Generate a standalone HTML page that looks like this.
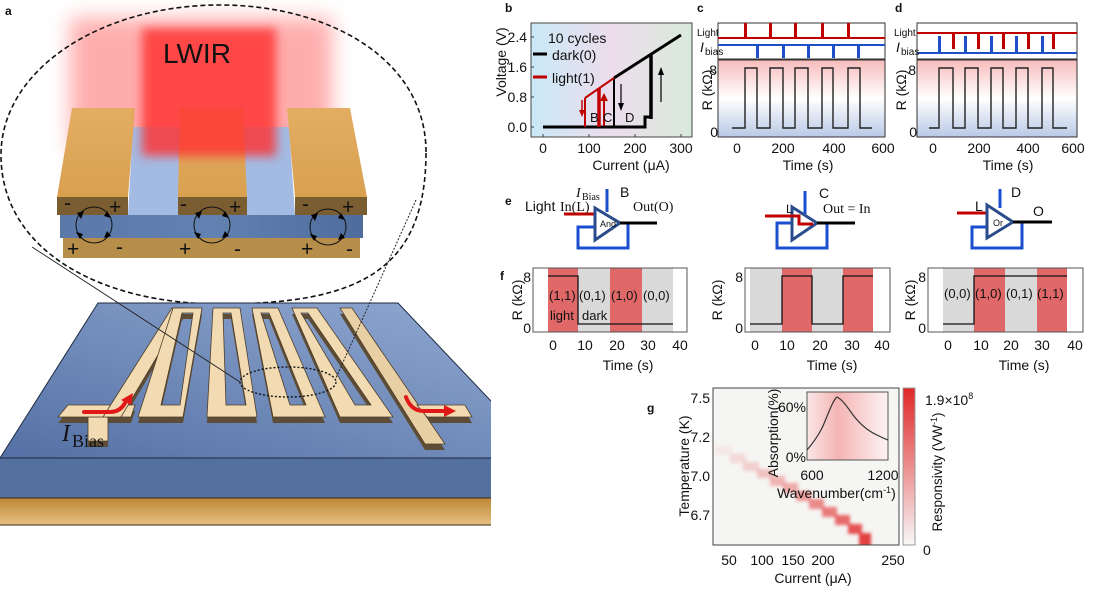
<!DOCTYPE html>
<html><head><meta charset="utf-8"><style>
html,body{margin:0;padding:0;background:#fff;}
svg{display:block;}
text{font-family:"Liberation Sans",Arial,sans-serif;fill:#111;}
.s{font-family:"Liberation Serif",serif;}
</style></head><body>
<svg width="1093" height="591" viewBox="0 0 1093 591" xmlns="http://www.w3.org/2000/svg">
<defs>
<filter id="b10" x="-50%" y="-50%" width="200%" height="200%"><feGaussianBlur stdDeviation="10"/></filter>
<filter id="b5" x="-50%" y="-50%" width="200%" height="200%"><feGaussianBlur stdDeviation="5"/></filter>
<filter id="b2" x="-50%" y="-50%" width="200%" height="200%"><feGaussianBlur stdDeviation="1.6"/></filter>
<linearGradient id="gb" x1="0" y1="0" x2="1" y2="0"><stop offset="0" stop-color="#c9e9f6"/><stop offset="0.5" stop-color="#ecdcec"/><stop offset="1" stop-color="#d9ebda"/></linearGradient>
<linearGradient id="gr" x1="0" y1="0" x2="0" y2="1"><stop offset="0" stop-color="#f7bcbc"/><stop offset="0.5" stop-color="#ffffff"/><stop offset="1" stop-color="#b9c9e6"/></linearGradient>
<linearGradient id="subTop" x1="0" y1="1" x2="1" y2="0"><stop offset="0" stop-color="#5470a4"/><stop offset="1" stop-color="#93abd4"/></linearGradient>
<linearGradient id="goldB" x1="0" y1="0" x2="0" y2="1"><stop offset="0" stop-color="#bd8735"/><stop offset="1" stop-color="#e6bf82"/></linearGradient>
<linearGradient id="goldT" x1="0" y1="0" x2="0" y2="1"><stop offset="0" stop-color="#e3ad62"/><stop offset="1" stop-color="#d9a050"/></linearGradient>
<linearGradient id="blueL" x1="0" y1="0" x2="1" y2="0"><stop offset="0" stop-color="#5a78a8"/><stop offset="0.5" stop-color="#6282b2"/><stop offset="1" stop-color="#4e6c9c"/></linearGradient>
<linearGradient id="ins" x1="0" y1="0" x2="1" y2="0"><stop offset="0" stop-color="#fae6e6"/><stop offset="0.38" stop-color="#f5b4b4"/><stop offset="1" stop-color="#fdf3f3"/></linearGradient>
<linearGradient id="cb" x1="0" y1="0" x2="0" y2="1"><stop offset="0" stop-color="#e02626"/><stop offset="1" stop-color="#f8f8f8"/></linearGradient>
<clipPath id="clipA"><rect x="0" y="0" width="491" height="591"/></clipPath>
<clipPath id="clipG"><rect x="713" y="388" width="186" height="157"/></clipPath>
</defs>

<!-- ===== Panel a ===== -->
<text x="5" y="15" font-size="12" font-weight="bold">a</text>

<rect x="70" y="18" width="262" height="135" fill="#ff6a6a" opacity="0.55" filter="url(#b10)"/>

<rect x="63" y="238" width="297" height="20" fill="#b68e4a"/>
<rect x="60" y="215" width="303" height="23" fill="url(#blueL)"/>
<polygon points="133,127 182,127 178,215 128,215" fill="#a3bbe3"/>
<polygon points="241,127 289,127 295,215 247,215" fill="#a3bbe3"/>
<polygon points="72,108 135,108 128,197 57,197" fill="url(#goldT)"/>
<rect x="57" y="197" width="71" height="18" fill="#7b5d32"/>
<polygon points="180,108 243,108 247,197 178,197" fill="url(#goldT)"/>
<rect x="178" y="197" width="69" height="18" fill="#7b5d32"/>
<polygon points="287,108 350,108 367,197 295,197" fill="url(#goldT)"/>
<rect x="295" y="197" width="72" height="18" fill="#7b5d32"/>

<rect x="142" y="28" width="134" height="128" fill="#ff3030" opacity="0.82" filter="url(#b5)"/>
<text x="163" y="63" font-size="28">LWIR</text>

<g fill="none" stroke="#111" stroke-width="1">
<circle cx="94" cy="225" r="18"/><circle cx="212" cy="225" r="18"/><circle cx="328" cy="227" r="18"/>
</g>
<g fill="#000">
<polygon points="77,213 84,211 81,219"/><polygon points="107,211 111,218 104,216"/><polygon points="111,236 104,238 107,231"/><polygon points="80,239 76,232 83,234"/>
<polygon points="195,213 202,211 199,219"/><polygon points="225,211 229,218 222,216"/><polygon points="229,236 222,238 225,231"/><polygon points="198,239 194,232 201,234"/>
<polygon points="311,215 318,213 315,221"/><polygon points="341,213 345,220 338,218"/><polygon points="345,238 338,240 341,233"/><polygon points="314,241 310,234 317,236"/>
</g>
<g font-size="21" fill="#000">
<text x="64" y="210">-</text><text x="109" y="214">+</text><text x="67" y="256">+</text><text x="116" y="254">-</text>
<text x="180" y="211">-</text><text x="229" y="214">+</text><text x="179" y="256">+</text><text x="234" y="256">-</text>
<text x="302" y="211">-</text><text x="342" y="214">+</text><text x="301" y="256">+</text><text x="346" y="256">-</text>
</g>

<path d="M426,152 C426,60 330,5 220,5 C100,5 1,70 1,155 C1,250 100,304 220,304 C360,304 426,270 426,152 Z" fill="none" stroke="#111" stroke-width="1.6" stroke-dasharray="5 3"/>

<g clip-path="url(#clipA)">
<polygon points="98,303 398,303 545,458 0,458" fill="url(#subTop)" stroke="#1d2a40" stroke-width="1"/>
<rect x="-2" y="458" width="550" height="40" fill="#53709f" stroke="#1d2a40" stroke-width="1"/>
<rect x="-2" y="498" width="550" height="27" fill="url(#goldB)" stroke="#3a2a10" stroke-width="1"/>
</g>

<g fill="#5e4d36" fill-rule="evenodd" transform="translate(0,6)">
<polygon points="68,405 135,405 131,417 58,417"/>
<polygon points="88,417 108,417 108,441 88,441"/>
<polygon points="103,417 121,417 186,308 172,308"/>
<path d="M173,308 H202 L183,417 H138 Z M182,313 H193 L180,405 H161 Z"/>
<path d="M213,308 H240 L257,417 H207 Z M223,313 H231 L246,405 H226 Z"/>
<path d="M252,308 H278 L325,417 H273 Z M261,313 H269 L306,405 H290 Z"/>
<path d="M292,308 H317 L393,417 H340 Z M301,313 H308 L371,405 H355 Z"/>
<polygon points="340,308 352,308 445,444 425,444"/>
<polygon points="417,405 465,405 472,417 427,417"/>
</g>
<g fill="#f2dbb2" stroke="#4d3e2a" stroke-width="0.8" fill-rule="evenodd">
<polygon points="88,417 108,417 108,441 88,441"/>
<polygon points="68,405 135,405 131,417 58,417"/>
<polygon points="103,417 121,417 186,308 172,308"/>
<path d="M173,308 H202 L183,417 H138 Z M182,313 H193 L180,405 H161 Z"/>
<path d="M213,308 H240 L257,417 H207 Z M223,313 H231 L246,405 H226 Z"/>
<path d="M252,308 H278 L325,417 H273 Z M261,313 H269 L306,405 H290 Z"/>
<path d="M292,308 H317 L393,417 H340 Z M301,313 H308 L371,405 H355 Z"/>
<polygon points="340,308 352,308 445,444 425,444" fill="#e9cfa4"/>
<polygon points="417,405 465,405 472,417 427,417"/>
</g>
<g fill="none" stroke="#e01818" stroke-width="4" stroke-linecap="round">
<path d="M84,412 L110,412 Q121,412 126,401"/>
<path d="M406,397 Q411,411 424,411 L446,411"/>
</g>
<polygon points="121,400 133,393 131,405" fill="#e01818"/>
<polygon points="444,405 456,411 444,417" fill="#e01818"/>
<text x="62" y="441" font-size="24" font-style="italic" class="s">I</text>
<text x="72" y="447" font-size="18" class="s">Bias</text>

<ellipse cx="288" cy="382" rx="48" ry="15" fill="none" stroke="#111" stroke-width="1.4" stroke-dasharray="2 2"/>
<line x1="32" y1="247" x2="240" y2="382" stroke="#222" stroke-width="0.9"/>
<line x1="416" y1="200" x2="335" y2="380" stroke="#222" stroke-width="1" stroke-dasharray="2 1.5"/>

<!-- ===== Panel b ===== -->
<text x="505" y="12" font-size="12" font-weight="bold">b</text>
<rect x="531" y="23" width="161" height="114" fill="url(#gb)" stroke="#444" stroke-width="1"/>
<g stroke="#444" stroke-width="1">
<path d="M543,137 v-3 M589,137 v-3 M635,137 v-3 M681,137 v-3 M531,37 h3 M531,67 h3 M531,97 h3 M531,127 h3"/>
</g>
<g font-size="14">
<text x="527" y="42" text-anchor="end">2.4</text>
<text x="527" y="72" text-anchor="end">1.6</text>
<text x="527" y="102" text-anchor="end">0.8</text>
<text x="527" y="132" text-anchor="end">0.0</text>
<text x="543" y="153" text-anchor="middle">0</text>
<text x="589" y="153" text-anchor="middle">100</text>
<text x="635" y="153" text-anchor="middle">200</text>
<text x="681" y="153" text-anchor="middle">300</text>
<text x="631" y="170" text-anchor="middle">Current (μA)</text>
<text transform="translate(506,62) rotate(-90)" text-anchor="middle">Voltage (V)</text>
<text x="548" y="43">10 cycles</text>
<text x="552" y="60">dark(0)</text>
<text x="552" y="83">light(1)</text>
</g>
<line x1="533" y1="54" x2="547" y2="54" stroke="#000" stroke-width="3"/>
<line x1="533" y1="77" x2="547" y2="77" stroke="#c00000" stroke-width="3"/>
<g fill="none">
<path d="M543,127 H645 V117 H651" stroke="#000" stroke-width="3"/>
<path d="M651,119 V54" stroke="#000" stroke-width="3.5"/>
<path d="M614,78 L681,35" stroke="#000" stroke-width="3"/>
<path d="M614,78 V127" stroke="#000" stroke-width="2"/>
<path d="M585,98 L614,78" stroke="#c00000" stroke-width="2"/>
<path d="M585,98 V127" stroke="#c00000" stroke-width="2"/>
<path d="M599,88 V127" stroke="#c00000" stroke-width="3.5"/>
<path d="M582,100 V111" stroke="#c00000" stroke-width="1.5"/>
<path d="M604,126 V100" stroke="#c00000" stroke-width="2"/>
<path d="M621,84 V104" stroke="#000" stroke-width="1.2"/>
<path d="M661,102 V74" stroke="#000" stroke-width="1.2"/>
</g>
<polygon points="579,110 585,110 582,117" fill="#c00000"/>
<polygon points="600,101 608,101 604,93" fill="#c00000"/>
<polygon points="618,103 624,103 621,111" fill="#000"/>
<polygon points="658,75 664,75 661,67" fill="#000"/>
<g font-size="13"><text x="590" y="122">B</text><text x="603" y="122">C</text><text x="625" y="122">D</text></g>

<!-- ===== Panel c ===== -->
<text x="697" y="12" font-size="12" font-weight="bold">c</text>
<rect x="718" y="23" width="167" height="36" fill="#fff" stroke="#333" stroke-width="1"/>
<line x1="718" y1="38" x2="885" y2="38" stroke="#c00000" stroke-width="2"/>
<g fill="#c00000"><rect x="744" y="23" width="3" height="15"/><rect x="769" y="23" width="3" height="15"/><rect x="794" y="23" width="3" height="15"/><rect x="821" y="23" width="3" height="15"/><rect x="847" y="23" width="3" height="15"/></g>
<line x1="718" y1="45" x2="885" y2="45" stroke="#1f4fc8" stroke-width="2"/>
<g fill="#1f4fc8"><rect x="756" y="45" width="3" height="13"/><rect x="782" y="45" width="3" height="13"/><rect x="807" y="45" width="3" height="13"/><rect x="832" y="45" width="3" height="13"/><rect x="857" y="45" width="3" height="13"/></g>
<rect x="718" y="60" width="167" height="77" fill="url(#gr)" stroke="#333" stroke-width="1"/>
<path d="M732,128 H745 V68 H757 V128 H770 V68 H783 V128 H795 V68 H808 V128 H822 V68 H833 V128 H848 V68 H860 V128 H872" fill="none" stroke="#222" stroke-width="1.4"/>
<text x="697" y="36" font-size="10" fill="#c00000">Light</text>
<text x="700" y="52" font-size="14" font-style="italic" fill="#1f4fc8">I</text>
<text x="705" y="55" font-size="10" fill="#1f4fc8">bias</text>
<g font-size="14">
<text x="717" y="75" text-anchor="end">8</text>
<text x="718" y="137" text-anchor="end">0</text>
<text transform="translate(712,90) rotate(-90)" text-anchor="middle">R (kΩ)</text>
<text x="737" y="153" text-anchor="middle">0</text>
<text x="783" y="153" text-anchor="middle">200</text>
<text x="834" y="153" text-anchor="middle">400</text>
<text x="883" y="153" text-anchor="middle">600</text>
<text x="808" y="170" text-anchor="middle">Time (s)</text>
</g>

<!-- ===== Panel d ===== -->
<text x="895" y="12" font-size="12" font-weight="bold">d</text>
<rect x="917" y="23" width="160" height="36" fill="#fff" stroke="#333" stroke-width="1"/>
<line x1="917" y1="33" x2="1077" y2="33" stroke="#c00000" stroke-width="2"/>
<g fill="#c00000"><rect x="952" y="33" width="3" height="16"/><rect x="977" y="33" width="3" height="16"/><rect x="1002" y="33" width="3" height="16"/><rect x="1027" y="33" width="3" height="16"/><rect x="1052" y="33" width="3" height="16"/></g>
<line x1="917" y1="53" x2="1077" y2="53" stroke="#1f4fc8" stroke-width="2"/>
<g fill="#1f4fc8"><rect x="938" y="36" width="3" height="17"/><rect x="964" y="36" width="3" height="17"/><rect x="990" y="36" width="3" height="17"/><rect x="1015" y="36" width="3" height="17"/><rect x="1041" y="36" width="3" height="17"/></g>
<rect x="917" y="60" width="160" height="77" fill="url(#gr)" stroke="#333" stroke-width="1"/>
<path d="M929,128 H939 V68 H953 V128 H965 V68 H978 V128 H991 V68 H1003 V128 H1016 V68 H1028 V128 H1042 V68 H1053 V128 H1067" fill="none" stroke="#222" stroke-width="1.4"/>
<text x="894" y="36" font-size="10" fill="#c00000">Light</text>
<text x="896" y="52" font-size="14" font-style="italic" fill="#1f4fc8">I</text>
<text x="901" y="55" font-size="10" fill="#1f4fc8">bias</text>
<g font-size="14">
<text x="916" y="75" text-anchor="end">8</text>
<text x="917" y="137" text-anchor="end">0</text>
<text transform="translate(906,90) rotate(-90)" text-anchor="middle">R (kΩ)</text>
<text x="933" y="153" text-anchor="middle">0</text>
<text x="979" y="153" text-anchor="middle">200</text>
<text x="1028" y="153" text-anchor="middle">400</text>
<text x="1073" y="153" text-anchor="middle">600</text>
<text x="1008" y="170" text-anchor="middle">Time (s)</text>
</g>

<!-- ===== Panel e ===== -->
<text x="505" y="205" font-size="12" font-weight="bold">e</text>
<line x1="564" y1="214" x2="594" y2="214" stroke="#c00000" stroke-width="3"/>
<line x1="607" y1="189" x2="607" y2="212" stroke="#1c4fd0" stroke-width="3"/>
<polyline points="628,223 628,248 578,248 578,227 595,227" fill="none" stroke="#1c4fd0" stroke-width="3"/>
<polygon points="595,208 595,240 620,223" fill="#fff" stroke="#2b4c8c" stroke-width="3" stroke-linejoin="miter"/>
<line x1="620" y1="223" x2="657" y2="223" stroke="#000" stroke-width="3"/>
<text x="600" y="227" font-size="9">And</text>
<text x="525" y="211" font-size="14">Light</text>
<text x="560" y="211" font-size="14" class="s">In(L)</text>
<text x="576" y="197" font-size="14" font-style="italic" class="s">I</text>
<text x="582" y="200" font-size="10" class="s">Bias</text>
<text x="620" y="197" font-size="14">B</text>
<text x="633" y="211" font-size="14" class="s">Out(O)</text>
<line x1="805" y1="191" x2="805" y2="214" stroke="#1c4fd0" stroke-width="3"/>
<polyline points="827,223 827,248 777,248 777,223 792,223" fill="none" stroke="#1c4fd0" stroke-width="3"/>
<polygon points="792,207 792,240 817,223" fill="#fff" stroke="#2b4c8c" stroke-width="3"/>
<polyline points="765,216 799,216 799,224 813,224" fill="none" stroke="#c00000" stroke-width="3"/>
<line x1="817" y1="223" x2="855" y2="223" stroke="#000" stroke-width="3"/>
<text x="786" y="213" font-size="12">L</text>
<text x="819" y="198" font-size="14">C</text>
<text x="823" y="213" font-size="14" class="s">Out = In</text>
<line x1="957" y1="213" x2="986" y2="213" stroke="#c00000" stroke-width="3"/>
<line x1="1000" y1="189" x2="1000" y2="208" stroke="#1c4fd0" stroke-width="3"/>
<polyline points="1022,222 1022,248 972,248 972,227 987,227" fill="none" stroke="#1c4fd0" stroke-width="3"/>
<polygon points="987,205 987,238 1013,222" fill="#fff" stroke="#2b4c8c" stroke-width="3"/>
<line x1="1013" y1="222" x2="1052" y2="222" stroke="#000" stroke-width="3"/>
<text x="993" y="226" font-size="9">Or</text>
<text x="975" y="211" font-size="14">L</text>
<text x="1011" y="197" font-size="14">D</text>
<text x="1033" y="216" font-size="14">O</text>

<!-- ===== Panel f ===== -->
<text x="500" y="280" font-size="12" font-weight="bold">f</text>
<rect x="533" y="268" width="154" height="64" fill="#fff" stroke="#555" stroke-width="1"/>
<rect x="548" y="268.5" width="30" height="63" fill="#e16868"/>
<rect x="578" y="268.5" width="32" height="63" fill="#d9d9d9"/>
<rect x="610" y="268.5" width="32" height="63" fill="#e16868"/>
<rect x="642" y="268.5" width="31" height="63" fill="#d9d9d9"/>
<path d="M548,276 H578 V324 H673" fill="none" stroke="#111" stroke-width="1.3"/>
<g font-size="13" fill="#222">
<text x="549" y="300">(1,1)</text><text x="579" y="300">(0,1)</text><text x="611" y="300">(1,0)</text><text x="643" y="300">(0,0)</text>
<text x="550" y="320">light</text><text x="582" y="320">dark</text>
</g>
<g font-size="14">
<text x="531" y="282" text-anchor="end">8</text><text x="531" y="333" text-anchor="end">0</text>
<text transform="translate(522,300) rotate(-90)" text-anchor="middle">R (kΩ)</text>
<text x="553" y="350" text-anchor="middle">0</text><text x="585" y="350" text-anchor="middle">10</text><text x="617" y="350" text-anchor="middle">20</text><text x="648" y="350" text-anchor="middle">30</text><text x="680" y="350" text-anchor="middle">40</text>
<text x="628" y="370" text-anchor="middle">Time (s)</text>
</g>
<rect x="745" y="268" width="145" height="64" fill="#fff" stroke="#555" stroke-width="1"/>
<rect x="750" y="268.5" width="32" height="63" fill="#d9d9d9"/>
<rect x="782" y="268.5" width="30" height="63" fill="#e16868"/>
<rect x="812" y="268.5" width="31" height="63" fill="#d9d9d9"/>
<rect x="843" y="268.5" width="30" height="63" fill="#e16868"/>
<path d="M750,324 H782 V276 H812 V324 H843 V276 H873" fill="none" stroke="#111" stroke-width="1.3"/>
<g font-size="14">
<text x="743" y="282" text-anchor="end">8</text><text x="743" y="333" text-anchor="end">0</text>
<text transform="translate(722,300) rotate(-90)" text-anchor="middle">R (kΩ)</text>
<text x="755" y="350" text-anchor="middle">0</text><text x="787" y="350" text-anchor="middle">10</text><text x="820" y="350" text-anchor="middle">20</text><text x="852" y="350" text-anchor="middle">30</text><text x="882" y="350" text-anchor="middle">40</text>
<text x="832" y="370" text-anchor="middle">Time (s)</text>
</g>
<rect x="928" y="268" width="155" height="64" fill="#fff" stroke="#555" stroke-width="1"/>
<rect x="943" y="268.5" width="31" height="63" fill="#d9d9d9"/>
<rect x="974" y="268.5" width="31" height="63" fill="#e16868"/>
<rect x="1005" y="268.5" width="32" height="63" fill="#d9d9d9"/>
<rect x="1037" y="268.5" width="30" height="63" fill="#e16868"/>
<path d="M943,324 H974 V276 H1067" fill="none" stroke="#111" stroke-width="1.3"/>
<g font-size="13" fill="#222">
<text x="944" y="298">(0,0)</text><text x="975" y="298">(1,0)</text><text x="1006" y="298">(0,1)</text><text x="1037" y="298">(1,1)</text>
</g>
<g font-size="14">
<text x="926" y="282" text-anchor="end">8</text><text x="926" y="333" text-anchor="end">0</text>
<text transform="translate(915,300) rotate(-90)" text-anchor="middle">R (kΩ)</text>
<text x="948" y="350" text-anchor="middle">0</text><text x="981" y="350" text-anchor="middle">10</text><text x="1011" y="350" text-anchor="middle">20</text><text x="1042" y="350" text-anchor="middle">30</text><text x="1075" y="350" text-anchor="middle">40</text>
<text x="1024" y="370" text-anchor="middle">Time (s)</text>
</g>

<!-- ===== Panel g ===== -->
<text x="647" y="412" font-size="12" font-weight="bold">g</text>
<rect x="713" y="388" width="186" height="157" fill="#f5f5f3"/>
<g clip-path="url(#clipG)" filter="url(#b2)" fill="#e23030">
<rect x="716" y="446" width="16" height="9" opacity="0.08"/>
<rect x="730" y="454" width="16" height="9" opacity="0.14"/>
<rect x="743" y="462" width="16" height="9" opacity="0.2"/>
<rect x="757" y="469" width="16" height="9" opacity="0.26"/>
<rect x="770" y="476" width="15" height="10" opacity="0.32"/>
<rect x="783" y="483" width="15" height="10" opacity="0.38"/>
<rect x="796" y="491" width="15" height="10" opacity="0.46"/>
<rect x="809" y="499" width="15" height="10" opacity="0.54"/>
<rect x="822" y="507" width="15" height="10" opacity="0.62"/>
<rect x="835" y="515" width="15" height="10" opacity="0.72"/>
<rect x="848" y="524" width="14" height="10" opacity="0.82"/>
<rect x="859" y="533" width="12" height="14" opacity="0.92"/>
</g>
<rect x="713" y="388" width="186" height="157" fill="none" stroke="#444" stroke-width="1"/>
<rect x="807" y="392" width="81" height="68" fill="url(#ins)" stroke="#555" stroke-width="1"/>
<path d="M807,450 C813,443 818,436 822,428 C827,418 832,401 837,397 C843,400 848,408 853,415 C860,424 868,431 877,435 C881,437 885,439 888,440" fill="none" stroke="#333" stroke-width="1.2"/>
<g font-size="14">
<text x="806" y="412" text-anchor="end">60%</text>
<text x="806" y="462" text-anchor="end">0%</text>
<text x="812" y="480" text-anchor="middle">600</text>
<text x="883" y="480" text-anchor="middle">1200</text>
<text x="777" y="498">Wavenumber(cm<tspan font-size="9" dy="-5">-1</tspan><tspan dy="5">)</tspan></text>
<text transform="translate(778,433) rotate(-90)" text-anchor="middle">Absorption(%)</text>
<text x="710" y="403" text-anchor="end">7.5</text>
<text x="710" y="442" text-anchor="end">7.2</text>
<text x="710" y="481" text-anchor="end">7.0</text>
<text x="710" y="520" text-anchor="end">6.7</text>
<text x="729" y="565" text-anchor="middle">50</text>
<text x="762" y="565" text-anchor="middle">100</text>
<text x="793" y="565" text-anchor="middle">150</text>
<text x="823" y="565" text-anchor="middle">200</text>
<text x="893" y="565" text-anchor="middle">250</text>
<text x="813" y="583" text-anchor="middle">Current (μA)</text>
<text transform="translate(689,466) rotate(-90)" text-anchor="middle">Temperature (K)</text>
</g>
<rect x="903" y="388" width="12" height="157" fill="url(#cb)" stroke="#999" stroke-width="1"/>
<g font-size="14">
<text x="925" y="405">1.9×10<tspan font-size="9" dy="-6">8</tspan></text>
<text x="923" y="555">0</text>
<text transform="translate(942,472) rotate(-90)" text-anchor="middle" font-size="13.5">Responsivity (VW<tspan font-size="9" dy="-5">-1</tspan><tspan dy="5">)</tspan></text>
</g>
</svg>
</body></html>
